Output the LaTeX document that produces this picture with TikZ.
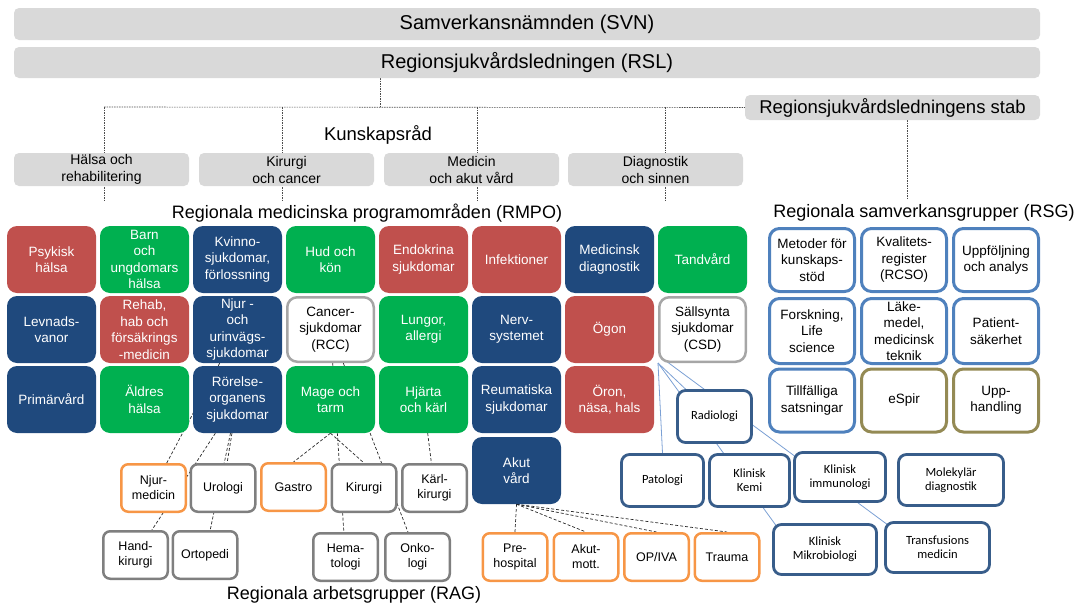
\documentclass[tikz,border=0pt]{standalone}
\usepackage{fontspec}
\setmainfont{Liberation Sans}
\newfontfamily\calib{Carlito}
\usetikzlibrary{backgrounds,calc}
\definecolor{rred}{HTML}{C0504D}
\definecolor{rgreen}{HTML}{00B050}
\definecolor{rnavy}{HTML}{1F497D}
\definecolor{hdr}{HTML}{D9D9D9}
\definecolor{bgray}{HTML}{A6A6A6}
\definecolor{rsgblue}{HTML}{4F81BD}
\definecolor{rsgolive}{HTML}{948A54}
\definecolor{raggray}{HTML}{7F7F7F}
\definecolor{ragorange}{HTML}{F79646}
\definecolor{diagblue}{HTML}{385D8A}
\definecolor{lineblue}{HTML}{7BA0D4}
\begin{document}
\begin{tikzpicture}[x=1pt,y=-1pt,
  hdrbox/.style={fill=hdr, rounded corners=5pt, inner sep=0pt},
  kbox/.style={fill=hdr, rounded corners=5pt, minimum width=175pt, minimum height=33pt, inner sep=0pt, align=center, font=\fontsize{14}{17}\selectfont},
  rm/.style={rounded corners=10pt, minimum width=89pt, minimum height=67pt, inner sep=0pt, align=center, text=white, font=\fontsize{13.5}{16.5}\selectfont},
  rmr/.style={rm, fill=rred},
  rmg/.style={rm, fill=rgreen},
  rmn/.style={rm, fill=rnavy},
  rmw/.style={rm, fill=white, draw=bgray, line width=2.5pt, minimum width=86.5pt, minimum height=64.5pt, text=black},
  rsg/.style={rounded corners=10pt, fill=white, draw=rsgblue, line width=3pt, minimum width=85pt, minimum height=63pt, inner sep=0pt, align=center, font=\fontsize{13.5}{16.5}\selectfont},
  rsgo/.style={rsg, draw=rsgolive},
  rag/.style={rounded corners=7pt, fill=white, draw=raggray, line width=2.5pt, minimum width=64.5pt, minimum height=47.5pt, inner sep=0pt, align=center, font=\fontsize{12.5}{15}\selectfont},
  rago/.style={rag, draw=ragorange},
  diag/.style={rounded corners=8pt, fill=white, draw=diagblue, line width=2.8pt, inner sep=0pt, align=center, font=\calib\fontsize{12.5}{14}\selectfont},
  dashc/.style={draw=black!85, dash pattern=on 3pt off 2pt, line width=0.7pt},
  orgline/.style={draw=black!70, dash pattern=on 1.5pt off 1pt, line width=0.6pt},
  blueline/.style={draw=lineblue, line width=0.8pt},
  ttl/.style={font=\fontsize{18}{21}\selectfont, inner sep=0pt}
]
\useasboundingbox (0,0) rectangle (1082,605);

% header
\node[hdrbox, minimum width=1026pt, minimum height=32pt, font=\fontsize{20}{24}\selectfont] (svn) at (527,24) {Samverkansnämnden (SVN)};
\node[hdrbox, minimum width=1026pt, minimum height=31pt, font=\fontsize{20}{24}\selectfont] (rsl) at (527,62.5) {Regionsjukvårdsledningen (RSL)};
\node[hdrbox, minimum width=295pt, minimum height=25pt, font=\fontsize{18.5}{22}\selectfont] (stab) at (892.5,107.5) {Regionsjukvårdsledningens stab};

\node[font=\fontsize{18.5}{22}\selectfont, inner sep=0pt] (kr) at (378,135) {Kunskapsråd};
\node[kbox] (k1) at (101.5,169.5) {Hälsa och\\rehabilitering};
\node[kbox] (k2) at (286.5,169.5) {Kirurgi\\och cancer};
\node[kbox] (k3) at (471.5,169.5) {Medicin\\och akut vård};
\node[kbox] (k4) at (655.5,169.5) {Diagnostik\\och sinnen};

\coordinate (rslp) at (380,78);
\coordinate (hj) at (380,107);
\coordinate (h1) at (104,107);
\coordinate (h2) at (282,107);
\coordinate (h3) at (477,107);
\coordinate (h4) at (665,107);
\coordinate (e1) at (104,200);
\coordinate (e2) at (282,200);
\coordinate (e3) at (477,200);
\coordinate (e4) at (665,200);
\coordinate (se) at (907,200);

% titles
\node[ttl] (rmpot) at (367,213) {Regionala medicinska programområden (RMPO)};
\node[ttl] (rsgt) at (924,213) {Regionala samverkansgrupper (RSG)};
\node[ttl] (ragt) at (354,595) {Regionala arbetsgrupper (RAG)};

% RMPO row 1
\node[rmr] (psyk) at (51.5,259.5) {Psykisk\\hälsa};
\node[rmg] (barn) at (144.5,259.5) {Barn\\och\\ungdomars\\hälsa};
\node[rmn] (kvinno) at (237.5,259.5) {Kvinno-\\sjukdomar,\\förlossning};
\node[rmg] (hud) at (330.5,259.5) {Hud och\\kön};
\node[rmr] (endo) at (423.5,259.5) {Endokrina\\sjukdomar};
\node[rmr] (infek) at (516.5,259.5) {Infektioner};
\node[rmn] (meddiag) at (609.5,259.5) {Medicinsk\\diagnostik};
\node[rmg] (tand) at (702.5,259.5) {Tandvård};
% row 2
\node[rmn] (levn) at (51.5,329.5) {Levnads-\\vanor};
\node[rmr] (rehab) at (144.5,329.5) {Rehab,\\hab och\\försäkrings\\-medicin};
\node[rmn] (njur) at (237.5,329.5) {Njur -\\och\\urinvägs-\\sjukdomar};
\node[rmw] (cancer) at (330.5,329.5) {Cancer-\\sjukdomar\\(RCC)};
\node[rmg] (lungor) at (423.5,329.5) {Lungor,\\allergi};
\node[rmn] (nerv) at (516.5,329.5) {Nerv-\\systemet};
\node[rmr] (ogon) at (609.5,329.5) {Ögon};
\node[rmw] (csd) at (702.5,329.5) {Sällsynta\\sjukdomar\\(CSD)};
% row 3
\node[rmn] (prim) at (51.5,399.5) {Primärvård};
\node[rmg] (aldre) at (144.5,399.5) {Äldres\\hälsa};
\node[rmn] (rorelse) at (237.5,399.5) {Rörelse-\\organens\\sjukdomar};
\node[rmg] (mage) at (330.5,399.5) {Mage och\\tarm};
\node[rmg] (hjarta) at (423.5,399.5) {Hjärta\\och kärl};
\node[rmn] (reuma) at (516.5,399.5) {Reumatiska\\sjukdomar};
\node[rmr] (oron) at (609.5,399.5) {Öron,\\näsa, hals};
% row 4
\node[rmn] (akut) at (516.5,470.5) {Akut\\vård};

% RSG
\node[rsg] (metod) at (812,260) {Metoder för\\kunskaps-\\stöd};
\node[rsg] (kval) at (904,260) {Kvalitets-\\register\\(RCSO)};
\node[rsg] (uppf) at (996,260) {Uppföljning\\och analys};
\node[rsg, minimum height=65pt] (forsk) at (812,331) {Forskning,\\Life\\science};
\node[rsg, minimum height=65pt] (lake) at (904,331) {Läke-\\medel,\\medicinsk\\teknik};
\node[rsg, minimum height=65pt] (patsak) at (996,331) {Patient-\\säkerhet};
\node[rsg] (tillf) at (812,400.5) {Tillfälliga\\satsningar};
\node[rsgo] (espir) at (904,400.5) {eSpir};
\node[rsgo] (upph) at (996,400.5) {Upp-\\handling};

% RAG
\node[rago] (njurmed) at (153.5,488) {Njur-\\medicin};
\node[rag] (urologi) at (223,488) {Urologi};
\node[rago] (gastro) at (293.5,487) {Gastro};
\node[rag] (kir) at (364,488) {Kirurgi};
\node[rag] (karl) at (434.5,488) {Kärl-\\kirurgi};
\node[rag] (hand) at (135.5,555) {Hand-\\kirurgi};
\node[rag] (orto) at (205,555) {Ortopedi};
\node[rag] (hema) at (345.5,557) {Hema-\\tologi};
\node[rag] (onko) at (417.5,557) {Onko-\\logi};
\node[rago] (pre) at (515,557) {Pre-\\hospital};
\node[rago] (amott) at (586,557) {Akut-\\mott.};
\node[rago] (opiva) at (656.5,557) {OP/IVA};
\node[rago] (trauma) at (727,557) {Trauma};

% diagnostics
\node[diag, minimum width=74pt, minimum height=52pt] (radio) at (714.5,416.5) {Radiologi};
\node[diag, minimum width=82pt, minimum height=52pt] (pato) at (662.5,480.5) {Patologi};
\node[diag, minimum width=80pt, minimum height=52pt] (kemi) at (749.5,480.5) {Klinisk\\Kemi};
\node[diag, minimum width=91pt, minimum height=49pt] (immu) at (840,477) {Klinisk\\immunologi};
\node[diag, minimum width=105pt, minimum height=51pt] (molek) at (951,480) {Molekylär\\diagnostik};
\node[diag, minimum width=103pt, minimum height=50pt] (mikro) at (825,549.5) {Klinisk\\Mikrobiologi};
\node[diag, minimum width=104pt, minimum height=50pt] (transf) at (937.5,547.5) {Transfusions\\medicin};

\begin{scope}[on background layer]
  % organisation lines
  \draw[orgline] (rslp) -- (hj);
  \draw[orgline] (h1) -- (stab.west);
  \draw[orgline] (h1) -- (e1);
  \draw[orgline] (h2) -- (e2);
  \draw[orgline] (h3) -- (e3);
  \draw[orgline] (h4) -- (e4);
  \draw[orgline] (stab.south -| se) -- (se);
  % RMPO to RAG
  \draw[dashc] (njur) -- (njurmed);
  \draw[dashc] (rorelse) -- (urologi);
  \draw[dashc] (rorelse) -- (hand);
  \draw[dashc] (rorelse) -- (orto);
  \draw[dashc] (mage.south) -- (gastro.north);
  \draw[dashc] (mage.south) -- (kir.north);
  \draw[dashc] (cancer) -- (hema);
  \draw[dashc] (cancer) -- (onko);
  \draw[dashc] (hjarta) -- (karl);
  \draw[dashc] (akut.south) -- (pre.north);
  \draw[dashc] (akut.south) -- (amott.north);
  \draw[dashc] (akut.south) -- (opiva.north);
  \draw[dashc] (akut.south) -- (trauma.north);
  % CSD to diagnostics
  \draw[blueline] (csd.south west) -- (pato.north);
  \draw[blueline] (csd.south west) -- (radio);
  \draw[blueline] (csd.south west) -- ($(mikro.north west)+(8,8)$);
  \draw[blueline] ($(csd.south west)+(8,-2)$) -- ($(transf.north west)+(4,4)$);
\end{scope}
\end{tikzpicture}
\end{document}
